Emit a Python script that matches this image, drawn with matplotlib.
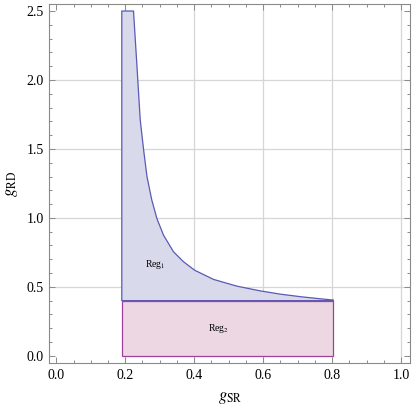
import matplotlib; matplotlib.use('Agg')
import matplotlib.pyplot as plt
from matplotlib.patches import Polygon, Rectangle
from matplotlib.ticker import MultipleLocator

plt.rcParams.update({
    'font.family': 'Liberation Serif',
    'mathtext.fontset': 'stix',
    'font.size': 10,
})

# boundary curve of region 1 (upper edge)
curve_x = [0.224, 0.234, 0.2435, 0.253, 0.263, 0.277, 0.292, 0.311, 0.340, 0.369,
           0.401, 0.456, 0.524, 0.591, 0.650, 0.710, 0.760, 0.804]
curve_y = [2.50, 2.10, 1.71, 1.50, 1.30, 1.13, 0.994, 0.875, 0.754, 0.682,
           0.621, 0.554, 0.505, 0.471, 0.447, 0.428, 0.415, 0.404]
x_left = 0.19
x_right = 0.804
y_top = 2.5
y_split = 0.4
y_bottom = 0.0

FILL1, EDGE1 = '#d8d9eb', '#5a5ab4'
FILL2, EDGE2 = '#ecd7e3', '#a0409a'
FRAME = '#8a8a8a'

fig = plt.figure(figsize=(4.15, 4.12), dpi=100)
ax = fig.add_axes([0.119, 0.118, 0.869, 0.873])

reg1 = [(x_left, y_split), (x_left, y_top)] + list(zip(curve_x, curve_y)) + [(x_right, y_split)]
ax.add_patch(Polygon(reg1, closed=True, facecolor=FILL1, edgecolor=EDGE1, lw=0.9,
                     joinstyle='round', zorder=2))
ax.add_patch(Rectangle((x_left, y_bottom), x_right - x_left, y_split - y_bottom,
                       facecolor=FILL2, edgecolor=EDGE2, lw=0.9, zorder=3))

ax.text(0.287, 0.66, r'Reg$_1$', fontsize=7, ha='center', va='center', zorder=4)
ax.text(0.47, 0.20, r'Reg$_2$', fontsize=7, ha='center', va='center', zorder=4)

ax.set_xlim(-0.02, 1.026)
ax.set_ylim(-0.055, 2.553)
ax.xaxis.set_major_locator(MultipleLocator(0.2))
ax.xaxis.set_minor_locator(MultipleLocator(0.05))
ax.yaxis.set_major_locator(MultipleLocator(0.5))
ax.yaxis.set_minor_locator(MultipleLocator(0.1))
ax.xaxis.set_major_formatter(plt.FormatStrFormatter('%.1f'))
ax.yaxis.set_major_formatter(plt.FormatStrFormatter('%.1f'))

for v in [0.2, 0.4, 0.6, 0.8, 1.0]:
    ax.axvline(v, color='#d6d6d6', lw=0.9, zorder=1)
for v in [0.5, 1.0, 1.5, 2.0]:
    ax.axhline(v, color='#d6d6d6', lw=0.9, zorder=1)

ax.tick_params(which='both', direction='in', top=True, right=True, color=FRAME, width=0.7)
ax.tick_params(which='major', length=4.5, labelsize=10, pad=4)
ax.tick_params(which='minor', length=2.5)
for s in ax.spines.values():
    s.set_color(FRAME)
    s.set_linewidth(0.8)

ax.set_xlabel(r'$g_{\mathrm{SR}}$', fontsize=12, labelpad=6)
ax.set_ylabel(r'$g_{\mathrm{RD}}$', fontsize=12, labelpad=5)

fig.savefig('out.png', dpi=100)
